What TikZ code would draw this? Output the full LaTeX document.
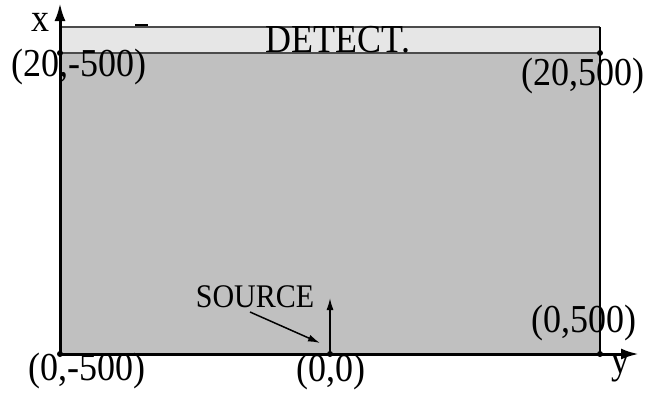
\documentclass[tikz,border=0pt]{standalone}
\usepackage{fontspec}
\setmainfont{Liberation Serif}
\usetikzlibrary{arrows.meta}
\newcommand{\tallt}[1]{\scalebox{1}[1.1]{#1}}
\tikzset{
  lbl/.style={inner sep=0pt, font=\fontsize{36}{40}\selectfont},
  smalllbl/.style={inner sep=0pt, font=\fontsize{30}{34}\selectfont},
  dotc/.style={circle, fill=black, inner sep=0pt, minimum size=6pt},
  axis/.style={line width=3pt, -{Latex[length=18pt,width=11pt]}},
  thinarrow/.style={line width=1.5pt, -{Latex[length=12pt,width=7pt]}},
}
\begin{document}
\begin{tikzpicture}[x=1pt,y=-1pt]
\useasboundingbox (0,0) rectangle (648,392);
% regions
\fill[fill={rgb,255:red,192;green,192;blue,192}] (60,53) rectangle (600,354);
\fill[fill={rgb,255:red,230;green,230;blue,230}] (60,27) rectangle (600,53);
\draw[line width=1.3pt, draw={rgb,255:red,75;green,75;blue,75}] (60,27) -- (600,27);
\draw[line width=1.3pt, draw={rgb,255:red,75;green,75;blue,75}] (60,53) -- (600,53);
\draw[line width=1.1pt] (600,27) -- (600,354);
\draw[line width=1.5pt] (135,25) -- (148,25);
% corner points
\node[dotc] (tl) at (60,53) {};
\node[dotc] (tr) at (600,53) {};
\node[dotc] (bl) at (60,354) {};
\node[dotc] (br) at (600,354) {};
\node[dotc] (src) at (330,354) {};
\coordinate (xend) at (60,3);
\coordinate (yend) at (639,354);
\coordinate (srcup) at (330,298);
% axes
\draw[axis] (bl.center) -- (xend);
\draw[axis] (bl.center) -- (yend);
% source
\draw[thinarrow] (src.center) -- (srcup);
\node[smalllbl] (srclbl) at (255,297) {\tallt{SOURCE}};
\coordinate (sa) at (250,312);
\coordinate (sb) at (320,343);
\draw[thinarrow] (sa) -- (sb);
% labels
\node[lbl] (xl) at (40,22) {\tallt{x}};
\node[lbl] (yl) at (620,369) {\tallt{y}};
\node[lbl] (det) at (338,40) {\tallt{DETECT.}};
\node[lbl] (l1) at (79,67) {\tallt{(20,-500)}};
\node[lbl] (l2) at (583,76) {\tallt{(20,500)}};
\node[lbl] (l3) at (584,323) {\tallt{(0,500)}};
\node[lbl] (l4) at (87,371) {\tallt{(0,-500)}};
\node[lbl] (l5) at (331,372) {\tallt{(0,0)}};
\end{tikzpicture}
\end{document}
